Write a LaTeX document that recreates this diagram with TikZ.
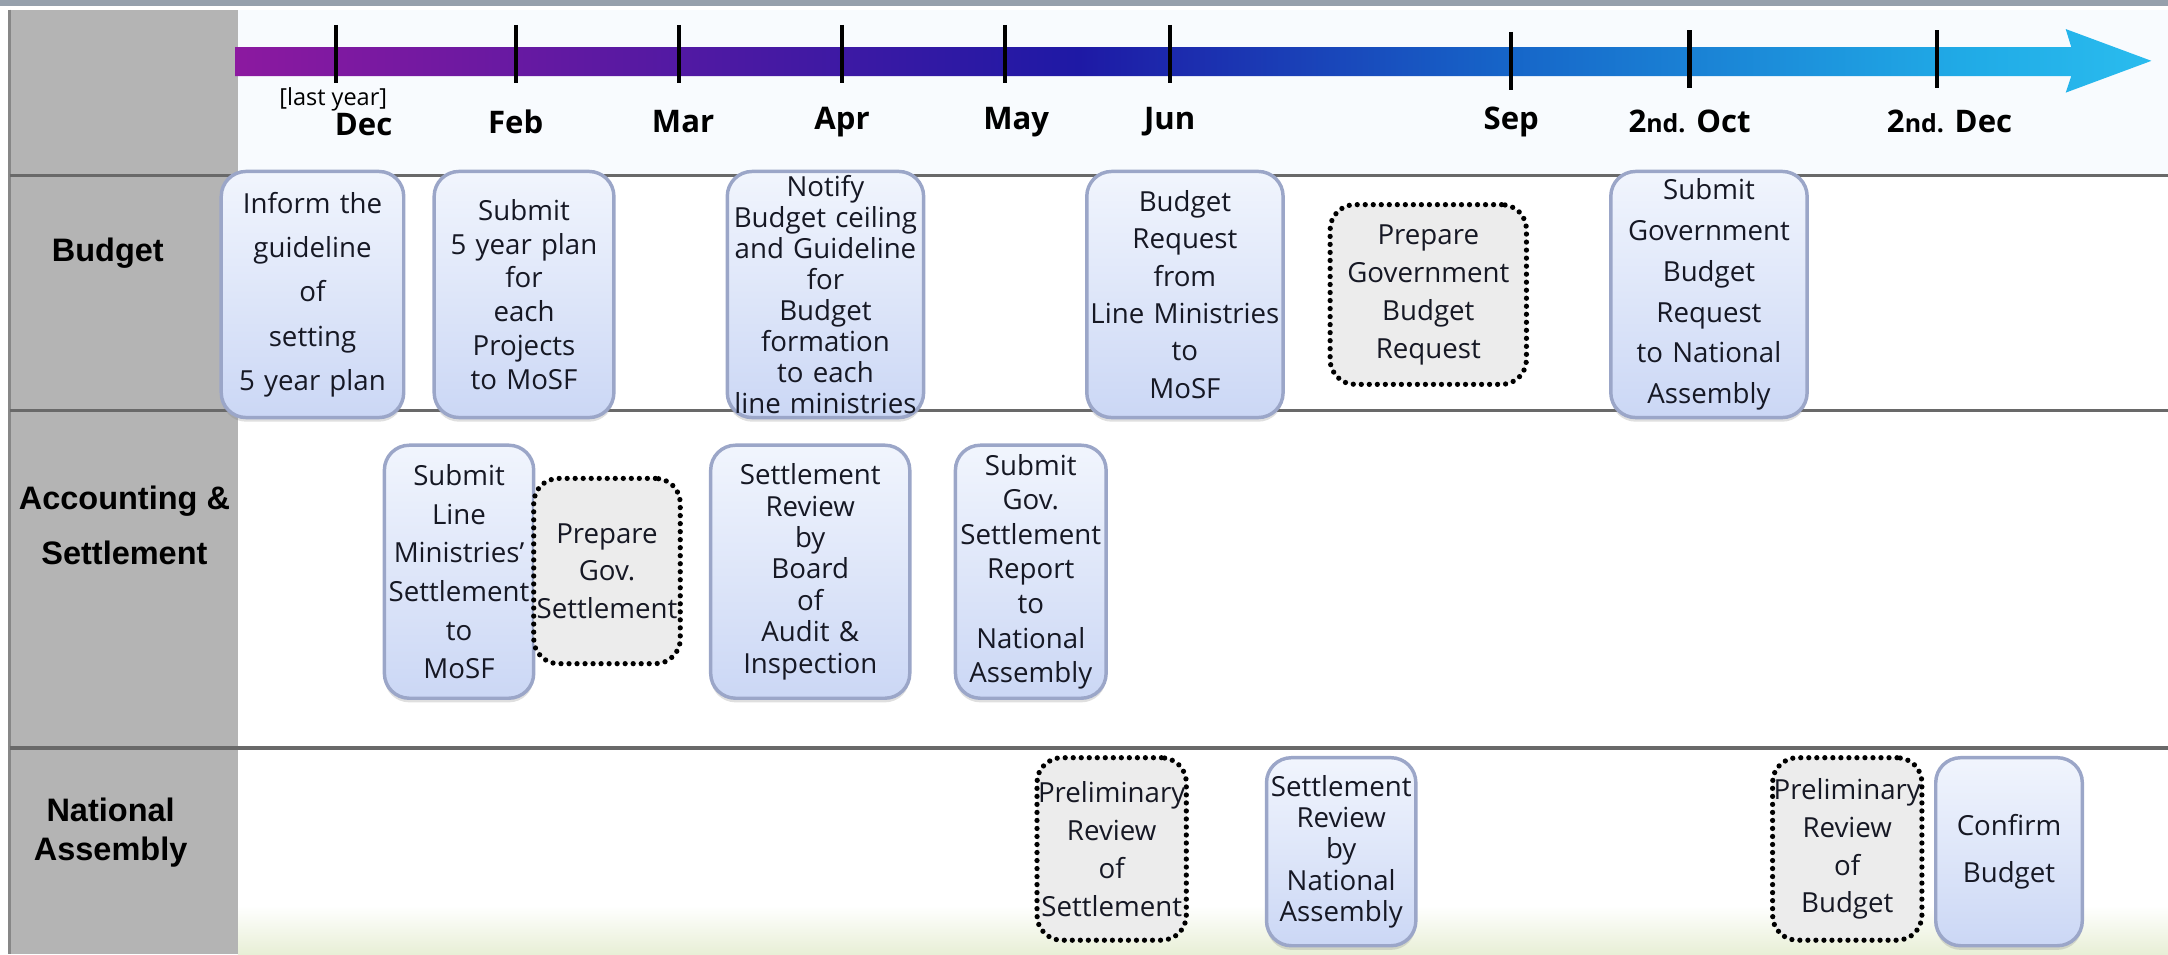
\documentclass[tikz,border=0pt]{standalone}
\usepackage{fontspec}
\setmainfont{Open Sans}
\newfontfamily\labfont{Liberation Sans}
\usetikzlibrary{shadows}

\definecolor{colgray}{RGB}{180,180,180}
\definecolor{rulegray}{RGB}{105,105,105}
\definecolor{framegray}{RGB}{150,160,172}
\definecolor{hdrbg}{RGB}{248,251,254}
\definecolor{grass}{RGB}{232,239,214}
\definecolor{boxedge}{RGB}{155,166,200}
\definecolor{boxtop}{RGB}{241,245,253}
\definecolor{boxbot}{RGB}{203,215,245}
\definecolor{boxtext}{RGB}{22,24,36}
\definecolor{prepfill}{RGB}{236,236,236}
\definecolor{tlpurple}{RGB}{140,25,160}
\definecolor{tlblue}{RGB}{30,25,165}
\definecolor{tlmid}{RGB}{22,100,200}
\definecolor{tlcyan}{RGB}{32,170,230}
\definecolor{tlhead}{RGB}{42,188,238}

\pgfdeclarehorizontalshading{timeline}{100bp}{color(0bp)=(tlpurple); color(25bp)=(tlpurple); color(47bp)=(tlblue); color(58bp)=(tlmid); color(70bp)=(tlcyan); color(75bp)=(tlhead); color(100bp)=(tlhead)}

\tikzset{
  task/.style={draw=boxedge, line width=2.5pt, rounded corners=18pt, top color=boxtop, bottom color=boxbot, text=boxtext, align=center, inner sep=0pt,
    drop shadow={shadow xshift=0pt, shadow yshift=-3pt, opacity=0.25}},
  prep/.style={draw=black, line width=3.8pt, dash pattern=on 0pt off 5.8pt, line cap=round, rounded corners=18pt, fill=prepfill, text=boxtext, align=center, inner sep=0pt},
  lsp/.style={font=\fontsize{20}{#1}\selectfont},
  rowlab/.style={font=\labfont\bfseries\fontsize{23.5}{#1}\selectfont, align=center},
  month/.style={font=\bfseries\fontsize{22.5}{24}\selectfont},
  rule/.style={draw=rulegray, line width=2.5pt},
  tick/.style={line width=3.2pt}
}

\begin{document}
\begin{tikzpicture}[x=1pt,y=-1pt]
\useasboundingbox (0,0) rectangle (1568,690);
\fill[hdrbg] (172,7) rectangle (1568,127);
\shade[top color=white, bottom color=grass] (172,655) rectangle (1568,690);
\fill[colgray] (7,7) rectangle (172,690);
\draw[rulegray!80, line width=2pt] (7,7) -- (7,690);
\fill[framegray] (0,0) rectangle (1568,4);
\foreach \y in {127,297,541}
\draw[rule] (7,\y) -- (1568,\y);

\shade[shading=timeline] (170,34) -- (1498,34) -- (1494,21) -- (1556,44) -- (1494,67) -- (1498,55) -- (170,55) -- cycle;
\foreach \x/\t in {243/18,373/18,491/18,609/18,727/18,846/18,1093/23,1222/22,1401/22}
\draw[tick] (\x,\t) -- (\x,\t+42);

\node[font=\fontsize{17}{17}\selectfont] (lastyr) at (241,72) {[last year]};
\node[month] (dec) at (263,90) {Dec};
\foreach \x/\m/\n in {373/Feb/feb,494/Mar/mar,609/Apr/apr,735/May/may,846/Jun/jun,1093/Sep/sep}
\node[month] (\n) at (\x,88) {\m};
\node[month] (oct) at (1222,88) {2{\fontsize{18}{18}\selectfont nd.} Oct};
\node[month] (decb) at (1410,88) {2{\fontsize{18}{18}\selectfont nd.} Dec};

\node[rowlab=40] (lbud) at (78,183) {Budget};
\node[rowlab=40] (lacc) at (90,380) {Accounting \&\\Settlement};
\node[rowlab=28] (lna) at (80,602) {National\\Assembly};

\node[task, lsp=32, text width=132pt, minimum height=178pt] (bud1) at (226,213) {Inform the\\guideline\\of\\setting\\5 year plan};
\node[task, lsp=24.5, text width=130pt, minimum height=178pt] (bud2) at (379,213) {Submit\\5 year plan\\for\\each\\Projects\\to MoSF};
\node[task, lsp=22.4, text width=142pt, minimum height=178pt] (bud3) at (597,213) {Notify\\Budget ceiling\\and Guideline\\for\\Budget\\formation\\to each\\line ministries};
\node[task, lsp=27, text width=142pt, minimum height=178pt] (bud4) at (857,213) {Budget\\Request\\from\\Line Ministries\\to\\MoSF};
\node[prep, lsp=27.5, text width=142pt, minimum height=130pt] (bud5) at (1033,213) {Prepare\\Government\\Budget\\Request};
\node[task, lsp=29.5, text width=142pt, minimum height=178pt] (bud6) at (1236,213) {Submit\\Government\\Budget\\Request\\to National\\Assembly};

\node[task, lsp=28, text width=108pt, minimum height=183pt] (acc1) at (332,413.5) {Submit\\Line\\Ministries'\\Settlement\\to\\MoSF};
\node[prep, lsp=27, text width=106pt, minimum height=134pt] (acc2) at (439,413) {Prepare\\Gov.\\Settlement};
\node[task, lsp=22.7, text width=144pt, minimum height=183pt] (acc3) at (586,413.5) {Settlement\\Review\\by\\Board\\of\\Audit \&\\Inspection};
\node[task, lsp=25, text width=109pt, minimum height=183pt] (acc4) at (745.5,413.5) {Submit\\Gov.\\Settlement\\Report\\to\\National\\Assembly};

\node[prep, lsp=27.4, text width=108pt, minimum height=132pt] (na1) at (804,614) {Preliminary\\Review\\of\\Settlement};
\node[task, lsp=22.7, text width=108pt, minimum height=136pt] (na2) at (970,616) {Settlement\\Review\\by\\National\\Assembly};
\node[prep, lsp=27.4, text width=108pt, minimum height=132pt] (na3) at (1336,614) {Preliminary\\Review\\of\\Budget};
\node[task, lsp=34, text width=106pt, minimum height=136pt] (na4) at (1453,616) {Confirm\\Budget};
\end{tikzpicture}
\end{document}
